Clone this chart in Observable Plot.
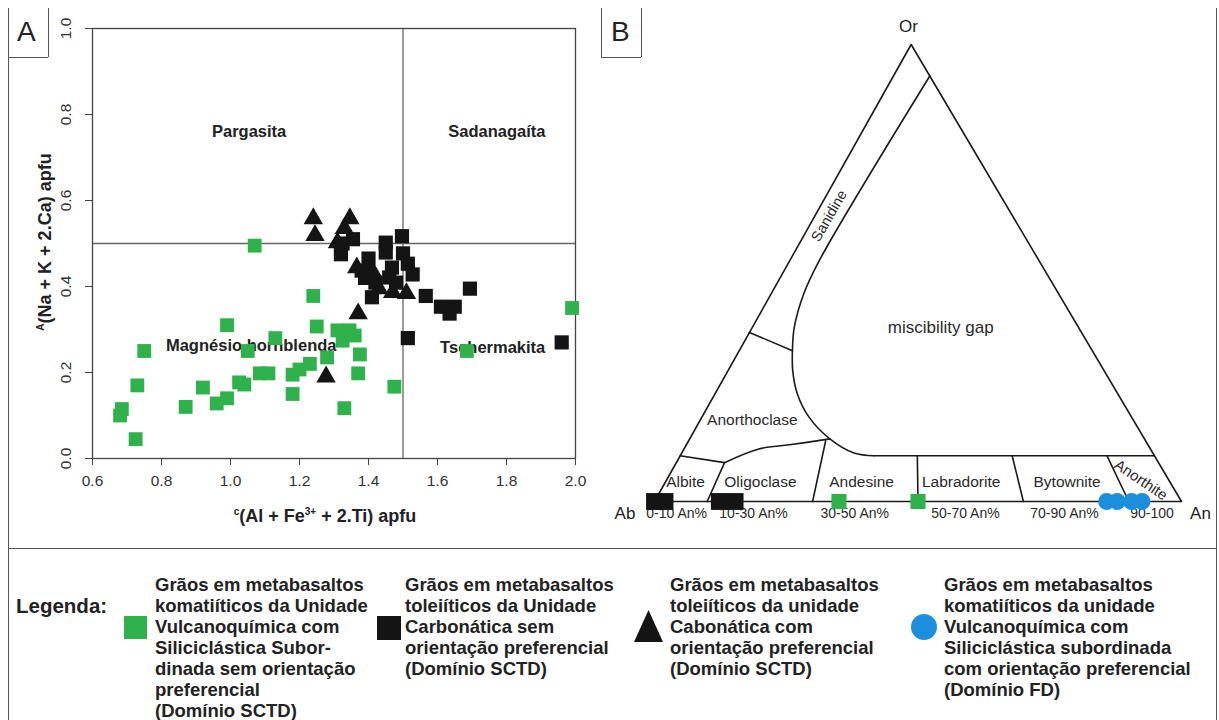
<!DOCTYPE html>
<html><head><meta charset="utf-8">
<script src="https://cdn.jsdelivr.net/npm/d3@7"></script>
<script src="https://cdn.jsdelivr.net/npm/@observablehq/plot@0.6"></script>
<style>
body{margin:0;background:#fff;font-family:"Liberation Sans",Arial,sans-serif;}
#page{position:relative;width:1219px;height:720px;overflow:hidden;background:#fff;}
.abs{position:absolute;}
.hl{position:absolute;height:0;border-top:1.3px solid #555;}
.vl{position:absolute;width:0;border-left:1.3px solid #555;}
.panel{position:absolute;font-size:28px;color:#222;}
.axl{position:absolute;font-weight:bold;font-size:18px;color:#222;white-space:nowrap;}
.axl sup{font-size:10px;}
.leg{position:absolute;font-weight:bold;font-size:18.5px;line-height:21px;color:#222;white-space:nowrap;}
</style></head><body><div id="page">
<div id="plotA" class="abs" style="left:0;top:0;"></div>
<div id="plotB" class="abs" style="left:600px;top:0;"></div>

<div class="vl" style="left:8px;top:8px;height:712px;"></div>
<div class="vl" style="left:48px;top:8px;height:49px;"></div>
<div class="hl" style="left:8px;top:57px;width:40px;"></div>
<div class="panel" style="left:17px;top:16px;">A</div>
<div class="vl" style="left:601px;top:8px;height:49px;"></div>
<div class="vl" style="left:641px;top:8px;height:49px;"></div>
<div class="hl" style="left:601px;top:57px;width:40px;"></div>
<div class="panel" style="left:611px;top:16px;">B</div>
<div class="vl" style="left:1216px;top:8px;height:712px;"></div>
<div class="hl" style="left:8px;top:548px;width:1208px;"></div>

<div class="axl" style="left:325px;top:516px;transform:translate(-50%,-50%);"><sup>c</sup>(Al + Fe<sup>3+</sup> + 2.Ti) apfu</div>
<div class="axl" style="left:45px;top:242px;transform:translate(-50%,-50%) rotate(-90deg);"><sup>A</sup>(Na + K + 2.Ca) apfu</div>

<div class="leg" style="left:16px;top:595px;font-size:20.5px;">Legenda:</div>
<div class="abs" style="left:124px;top:616px;width:23px;height:23px;background:#2fb14b;"></div>
<div class="leg" style="left:155px;top:574px;">Grãos em metabasaltos<br>komatiíticos da Unidade<br>Vulcanoquímica com<br>Siliciclástica Subor-<br>dinada sem orientação<br>preferencial<br>(Domínio SCTD)</div>
<div class="abs" style="left:377px;top:616px;width:24px;height:24px;background:#141414;"></div>
<div class="leg" style="left:405px;top:574px;">Grãos em metabasaltos<br>toleiíticos da Unidade<br>Carbonática sem<br>orientação preferencial<br>(Domínio SCTD)</div>
<svg class="abs" style="left:633px;top:609px;" width="31" height="34"><polygon points="15.5,1 30,33 1,33" fill="#141414"/></svg>
<div class="leg" style="left:670px;top:574px;">Grãos em metabasaltos<br>toleiíticos da unidade<br>Cabonática com<br>orientação preferencial<br>(Domínio SCTD)</div>
<div class="abs" style="left:911px;top:614px;width:26px;height:26px;border-radius:50%;background:#1b8fdb;"></div>
<div class="leg" style="left:944px;top:574px;">Grãos em metabasaltos<br>komatiíticos da unidade<br>Vulcanoquímica com<br>Siliciclástica subordinada<br>com orientação preferencial<br>(Domínio FD)</div>
</div>
<script>
// ---------- Panel A data ----------
const greenX = [0.68,0.685,0.73,0.725,0.75,0.87,0.92,0.96,0.99,0.99,1.025,1.04,1.05,1.07,1.085,1.11,1.13,1.18,1.18,1.20,1.23,1.24,1.25,1.28,1.31,1.345,1.36,1.325,1.37,1.375,1.33,1.475,1.685,1.99];
const greenY = [0.10,0.115,0.17,0.045,0.25,0.12,0.165,0.128,0.14,0.31,0.177,0.172,0.25,0.495,0.198,0.198,0.28,0.195,0.15,0.207,0.22,0.378,0.307,0.235,0.298,0.298,0.286,0.274,0.198,0.242,0.117,0.167,0.25,0.35];
const blackX = [1.355,1.325,1.32,1.40,1.38,1.39,1.41,1.45,1.45,1.497,1.50,1.514,1.468,1.46,1.528,1.48,1.42,1.566,1.61,1.65,1.635,1.694,1.514,1.96];
const blackY = [0.51,0.50,0.475,0.465,0.437,0.42,0.375,0.502,0.479,0.517,0.477,0.453,0.444,0.421,0.428,0.409,0.409,0.378,0.353,0.353,0.337,0.395,0.28,0.27];
const triX = [1.24,1.245,1.346,1.33,1.31,1.366,1.41,1.43,1.47,1.51,1.37,1.277];
const triY = [0.558,0.519,0.558,0.535,0.502,0.444,0.437,0.395,0.386,0.384,0.337,0.19];
const xTicks = [0.6,0.8,1.0,1.2,1.4,1.6,1.8,2.0];
const yTicks = [0.0,0.2,0.4,0.6,0.8,1.0];
const regionNames = ["Pargasita","Sadanagaíta","Magnésio hornblenda","Tschermakita"];
const regionX = [1.054,1.772,1.06,1.76];
const regionY = [0.76,0.76,0.262,0.257];
const xBoundary = [1.5];
const yBoundary = [0.5];

// ---------- Panel B data (ternary: [An, Or]) ----------
const triangleOutline = [[0,0],[1,0],[0,1],[0,0]];
const sanidineGapCurve = [[0.069,0.931],[0.056,0.527],[0.062,0.454],[0.08,0.38],[0.101,0.33],[0.123,0.286],[0.156,0.236],[0.204,0.184],[0.266,0.137],[0.327,0.106],[0.368,0.10]];
const plagTop = [[0.368,0.10],[0.90,0.10]];
const sanAnorthBoundary = [[0,0.37],[0.101,0.33]];
const albiteTop = [[0,0.10],[0.0915,0.085]];
const anorthOligoCurve = [[0.0915,0.085],[0.142,0.115],[0.196,0.124],[0.266,0.137]];
const plagDividers = [
  [[0.1,0],[0.0915,0.085]],
  [[0.3,0],[0.26,0.133]],
  [[0.5,0],[0.45,0.10]],
  [[0.7,0],[0.63,0.10]],
  [[0.9,0],[0.81,0.10]]
];
const fieldNames = ["Sanidine","miscibility gap","Anorthoclase","Albite","Oligoclase","Andesine","Labradorite","Bytownite","Anorthite"];
const fieldAn = [0.027,0.358,0.099,0.038,0.18,0.372,0.561,0.762,0.90];
const fieldOr = [0.625,0.38,0.178,0.043,0.043,0.043,0.043,0.043,0.047];
const fieldRot = [-60,0,0,0,0,0,0,0,34];
const fieldSize = [14.5,17,15.5,15.5,15.5,15.5,15.5,15.5,15];
const binNames = ["0-10 An%","10-30 An%","30-50 An%","50-70 An%","70-90 An%","90-100"];
const binAn = [0.042,0.188,0.38,0.59,0.778,0.944];
const apexNames = ["Ab","An","Or"];
const blackB_An = [0.0,0.02,0.123,0.153];
const greenB_An = [0.35,0.50];
const blueB_An = [0.858,0.878,0.905,0.925];

const GREEN = "#2fb14b", BLACK = "#141414", BLUE = "#1b8fdb";
const font = "Liberation Sans, Arial, sans-serif";

const zip = (xs, ys) => xs.map((x, i) => ({x, y: ys[i]}));
const green = zip(greenX, greenY), black = zip(blackX, blackY), tri = zip(triX, triY);
const regions = regionNames.map((t, i) => ({t, x: regionX[i], y: regionY[i]}));

const plotA = Plot.plot({
  width: 600, height: 545,
  marginLeft: 92, marginRight: 25, marginTop: 28, marginBottom: 87,
  x: {domain: [0.6, 2.0]},
  y: {domain: [0, 1.0]},
  style: {background: "transparent", fontFamily: font, color: "#333"},
  marks: [
    Plot.ruleX(xBoundary, {stroke: "#666", strokeWidth: 1.3}),
    Plot.ruleY(yBoundary, {stroke: "#666", strokeWidth: 1.3}),
    Plot.frame({stroke: "#444", strokeWidth: 1.3}),
    Plot.axisX({ticks: xTicks, tickSize: 7, tickPadding: 9, fontSize: 15.5, tickFormat: d3.format(".1f"), label: null, stroke: "#444"}),
    Plot.axisY({ticks: yTicks, tickSize: 7, tickFormat: () => "", label: null, stroke: "#444"}),
    Plot.text(yTicks, {x: () => 0.6, y: d => d, text: d3.format(".1f"), rotate: -90, dx: -26, fontSize: 15.5, fill: "#333"}),
    Plot.text(regions, {x: "x", y: "y", text: "t", fontWeight: "bold", fontSize: 16.5, fill: "#222"}),
    Plot.dot(green, {x: "x", y: "y", symbol: "square", r: 7.8, fill: GREEN}),
    Plot.dot(black, {x: "x", y: "y", symbol: "square", r: 8, fill: BLACK}),
    Plot.dot(tri, {x: "x", y: "y", symbol: "triangle", r: 7.2, fill: BLACK})
  ]
});
document.getElementById("plotA").appendChild(plotA);

// ---------- Panel B ----------
const S3 = Math.sqrt(3) / 2;
const SKEW = 0.487; // apex sits slightly left of the base midpoint in the reference
const toXY = (an, or) => ({x: an + or * SKEW, y: or * S3});
const rows = (id, pts) => pts.map(([an, or]) => ({id, ...toXY(an, or)}));
const straight = [
  ...rows("outline", triangleOutline),
  ...rows("plagTop", plagTop),
  ...rows("sanAnorth", sanAnorthBoundary),
  ...rows("albTop", albiteTop),
  ...plagDividers.flatMap((p, i) => rows("div" + i, p))
];
const fields = fieldNames.map((t, i) => ({t, rot: fieldRot[i], size: fieldSize[i], ...toXY(fieldAn[i], fieldOr[i])}));
const bins = binNames.map((t, i) => ({t, ...toXY(binAn[i], 0)}));
const apexes = [
  {t: apexNames[0], ...toXY(-0.056, 0)},
  {t: apexNames[1], ...toXY(1.036, 0)},
  {t: apexNames[2], ...toXY(-0.005, 1)}
];
const ptsB = (ans) => ans.map(an => toXY(an, 0));

const plotB = Plot.plot({
  width: 619, height: 545,
  marginLeft: 54, marginRight: 38, marginTop: 44, marginBottom: 44,
  x: {domain: [0, 1], axis: null},
  y: {domain: [0, S3], axis: null},
  style: {background: "transparent", fontFamily: font, color: "#222"},
  marks: [
    Plot.line(straight, {x: "x", y: "y", z: "id", stroke: "#1a1a1a", strokeWidth: 1.6}),
    Plot.line(rows("gap", sanidineGapCurve), {x: "x", y: "y", curve: "catmull-rom", stroke: "#1a1a1a", strokeWidth: 1.6}),
    Plot.line(rows("ao", anorthOligoCurve), {x: "x", y: "y", curve: "catmull-rom", stroke: "#1a1a1a", strokeWidth: 1.6}),
    Plot.text(fields, {x: "x", y: "y", text: "t", rotate: "rot", fontSize: "size", fill: "#2a2a2a"}),
    Plot.text(bins, {x: "x", y: "y", text: "t", dy: 12, fontSize: 14, fill: "#2a2a2a"}),
    Plot.text(apexes.slice(0, 2), {x: "x", y: "y", text: "t", dy: 12, fontSize: 17, fill: "#222"}),
    Plot.text(apexes.slice(2), {x: "x", y: "y", text: "t", dy: -18, fontSize: 17, fill: "#222"}),
    Plot.dot(ptsB(blackB_An), {x: "x", y: "y", symbol: "square", r: 9.5, fill: BLACK}),
    Plot.dot(ptsB(greenB_An), {x: "x", y: "y", symbol: "square", r: 8.5, fill: GREEN}),
    Plot.dot(ptsB(blueB_An), {x: "x", y: "y", r: 8.5, fill: BLUE})
  ]
});
document.getElementById("plotB").appendChild(plotB);
</script>
</body></html>
